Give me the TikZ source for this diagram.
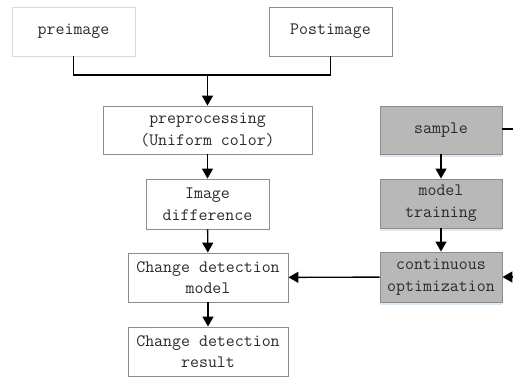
\documentclass[tikz,border=0pt]{standalone}
\usepackage{fontspec}
\usetikzlibrary{arrows.meta,shadows}
\definecolor{boxgray}{HTML}{B8B8B8}
\definecolor{edgegray}{HTML}{8C8C8C}
\definecolor{txt}{HTML}{2A2A2A}
\definecolor{shadowblue}{HTML}{D4E2F0}
\tikzset{
  x=1pt,y=1pt,
  every node/.style={font=\ttfamily\fontsize{17.4}{21.7}\selectfont, text=txt, align=center, inner sep=0pt},
  wbox/.style={draw=edgegray, fill=white, line width=0.9pt},
  gbox/.style={draw=edgegray, fill=boxgray, line width=0.9pt,
    drop shadow={shadow xshift=0pt, shadow yshift=-2.5pt, fill=shadowblue, opacity=0.8}},
  conn/.style={line width=1.4pt, black},
  arr/.style={conn, -{Triangle[length=10pt,width=11pt]}},
}
\begin{document}
\begin{tikzpicture}
\useasboundingbox (0,0) rectangle (513,-376);
\node[wbox, draw=black!15, minimum width=123, minimum height=49] (pre) at (73.5,-31.5) {preimage};
\node[wbox, minimum width=123, minimum height=49] (post) at (330.5,-31.5) {Postimage};
\node[wbox, minimum width=209, minimum height=48] (proc) at (207.5,-130) {preprocessing\\(Uniform color)};
\node[wbox, minimum width=123, minimum height=50] (diff) at (207.5,-204) {Image\\difference};
\node[wbox, minimum width=160, minimum height=49] (cdm) at (208,-277.5) {Change detection\\model};
\node[wbox, minimum width=160, minimum height=49] (cdr) at (208,-351.5) {Change detection\\result};
\node[gbox, minimum width=122, minimum height=48] (sample) at (441,-130) {sample};
\node[gbox, minimum width=122, minimum height=49] (train) at (441,-203.5) {model\\training};
\node[gbox, minimum width=122, minimum height=50] (opt) at (441,-277) {continuous\\optimization};
\coordinate (j) at (207.5,-75);
\coordinate (loopa) at (514,-129);
\coordinate (loopb) at (514,-277);
\draw[conn] (pre.south) |- (j) -| (post.south);
\draw[arr] (j) -- (proc.north);
\draw[arr] (proc) -- (diff);
\draw[arr] (diff) -- (cdm);
\draw[arr] (cdm) -- (cdr);
\draw[arr] (sample) -- (train);
\draw[arr] (train) -- (opt);
\draw[arr] (opt) -- (cdm);
\draw[conn] (sample.east |- loopa) -- (loopa);
\draw[arr] (loopb) -- (opt.east);
\end{tikzpicture}
\end{document}
